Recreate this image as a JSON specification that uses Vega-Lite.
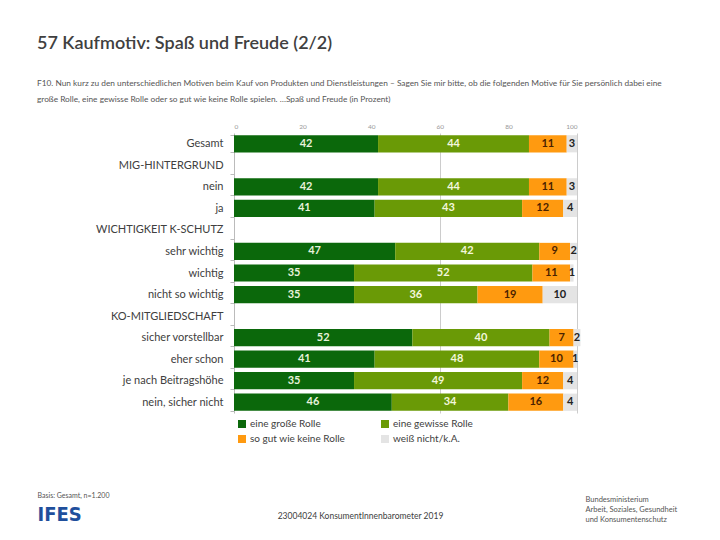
{
  "$schema": "https://vega.github.io/schema/vega-lite/v6.json",
  "autosize": {"type": "none"},
  "width": 343,
  "height": 280,
  "padding": {"left": 234, "top": 133, "right": 143, "bottom": 127},
  "background": "white",
  "config": {"view": {"stroke": null}, "font": "Lato"},
  "title": {
    "text": "57  Kaufmotiv: Spaß und Freude (2/2)",
    "subtitle": ["F10. Nun kurz zu den unterschiedlichen Motiven beim Kauf von Produkten und Dienstleistungen – Sagen Sie mir bitte, ob die folgenden Motive für Sie persönlich dabei eine", "große Rolle, eine gewisse Rolle oder so gut wie keine Rolle spielen. …Spaß und Freude (in Prozent)"],
    "anchor": "start",
    "frame": "group",
    "dx": -197,
    "offset": 20,
    "font": "Lato",
    "fontSize": 18,
    "fontWeight": 600,
    "color": "#404040",
    "subtitleFont": "Lato",
    "subtitleFontSize": 8.3,
    "subtitleColor": "#555555",
    "subtitleLineHeight": 16,
    "subtitlePadding": 26
  },
  "data": {"values": [
    {"row": "Gesamt", "cat": "eine große Rolle", "k": 1, "value": 42},
    {"row": "Gesamt", "cat": "eine gewisse Rolle", "k": 2, "value": 44},
    {"row": "Gesamt", "cat": "so gut wie keine Rolle", "k": 3, "value": 11},
    {"row": "Gesamt", "cat": "weiß nicht/k.A.", "k": 4, "value": 3},
    {"row": "nein", "cat": "eine große Rolle", "k": 1, "value": 42},
    {"row": "nein", "cat": "eine gewisse Rolle", "k": 2, "value": 44},
    {"row": "nein", "cat": "so gut wie keine Rolle", "k": 3, "value": 11},
    {"row": "nein", "cat": "weiß nicht/k.A.", "k": 4, "value": 3},
    {"row": "ja", "cat": "eine große Rolle", "k": 1, "value": 41},
    {"row": "ja", "cat": "eine gewisse Rolle", "k": 2, "value": 43},
    {"row": "ja", "cat": "so gut wie keine Rolle", "k": 3, "value": 12},
    {"row": "ja", "cat": "weiß nicht/k.A.", "k": 4, "value": 4},
    {"row": "sehr wichtig", "cat": "eine große Rolle", "k": 1, "value": 47},
    {"row": "sehr wichtig", "cat": "eine gewisse Rolle", "k": 2, "value": 42},
    {"row": "sehr wichtig", "cat": "so gut wie keine Rolle", "k": 3, "value": 9},
    {"row": "sehr wichtig", "cat": "weiß nicht/k.A.", "k": 4, "value": 2},
    {"row": "wichtig", "cat": "eine große Rolle", "k": 1, "value": 35},
    {"row": "wichtig", "cat": "eine gewisse Rolle", "k": 2, "value": 52},
    {"row": "wichtig", "cat": "so gut wie keine Rolle", "k": 3, "value": 11},
    {"row": "wichtig", "cat": "weiß nicht/k.A.", "k": 4, "value": 1},
    {"row": "nicht so wichtig", "cat": "eine große Rolle", "k": 1, "value": 35},
    {"row": "nicht so wichtig", "cat": "eine gewisse Rolle", "k": 2, "value": 36},
    {"row": "nicht so wichtig", "cat": "so gut wie keine Rolle", "k": 3, "value": 19},
    {"row": "nicht so wichtig", "cat": "weiß nicht/k.A.", "k": 4, "value": 10},
    {"row": "sicher vorstellbar", "cat": "eine große Rolle", "k": 1, "value": 52},
    {"row": "sicher vorstellbar", "cat": "eine gewisse Rolle", "k": 2, "value": 40},
    {"row": "sicher vorstellbar", "cat": "so gut wie keine Rolle", "k": 3, "value": 7},
    {"row": "sicher vorstellbar", "cat": "weiß nicht/k.A.", "k": 4, "value": 2},
    {"row": "eher schon", "cat": "eine große Rolle", "k": 1, "value": 41},
    {"row": "eher schon", "cat": "eine gewisse Rolle", "k": 2, "value": 48},
    {"row": "eher schon", "cat": "so gut wie keine Rolle", "k": 3, "value": 10},
    {"row": "eher schon", "cat": "weiß nicht/k.A.", "k": 4, "value": 1},
    {"row": "je nach Beitragshöhe", "cat": "eine große Rolle", "k": 1, "value": 35},
    {"row": "je nach Beitragshöhe", "cat": "eine gewisse Rolle", "k": 2, "value": 49},
    {"row": "je nach Beitragshöhe", "cat": "so gut wie keine Rolle", "k": 3, "value": 12},
    {"row": "je nach Beitragshöhe", "cat": "weiß nicht/k.A.", "k": 4, "value": 4},
    {"row": "nein, sicher nicht", "cat": "eine große Rolle", "k": 1, "value": 46},
    {"row": "nein, sicher nicht", "cat": "eine gewisse Rolle", "k": 2, "value": 34},
    {"row": "nein, sicher nicht", "cat": "so gut wie keine Rolle", "k": 3, "value": 16},
    {"row": "nein, sicher nicht", "cat": "weiß nicht/k.A.", "k": 4, "value": 4}
  ]},
  "layer": [
    {
      "mark": {"type": "bar"},
      "encoding": {
        "y": {
          "field": "row", "type": "nominal",
          "scale": {
            "domain": ["Gesamt", "MIG-HINTERGRUND", "nein", "ja", "WICHTIGKEIT K-SCHUTZ", "sehr wichtig", "wichtig", "nicht so wichtig", "KO-MITGLIEDSCHAFT", "sicher vorstellbar", "eher schon", "je nach Beitragshöhe", "nein, sicher nicht"],
            "paddingInner": 0.2, "paddingOuter": 0.1
          },
          "axis": {
            "orient": "left",
            "title": "Basis: Gesamt, n=1.200",
            "titleAngle": 0, "titleX": -197, "titleY": 364, "titleAlign": "left", "titleBaseline": "alphabetic",
            "titleFont": "Lato", "titleFontSize": 7, "titleFontWeight": "normal", "titleColor": "#555555",
            "tickBand": "extent", "tickSize": 4, "tickColor": "#bbbbbb", "domainColor": "#bbbbbb",
            "labelFont": "Lato", "labelFontSize": 11, "labelColor": "#404040", "labelPadding": 7, "labelLimit": 220
          }
        },
        "x": {
          "field": "value", "type": "quantitative", "stack": "zero",
          "scale": {"domain": [0, 100], "nice": false, "clamp": false},
          "axis": {
            "orient": "top", "values": [0, 20, 40, 60, 80, 100],
            "ticks": false, "domain": false, "labelFontSize": 6.5, "labelColor": "#999999", "labelPadding": 4,
            "grid": true,
            "gridColor": {"condition": {"test": "datum.value == 60 || datum.value == 100", "value": "#cccccc"}, "value": "transparent"},
            "title": "23004024 KonsumentInnenbarometer 2019",
            "titleX": 126, "titleY": 385, "titleAlign": "center", "titleBaseline": "alphabetic",
            "titleFont": "Lato", "titleFontSize": 8.5, "titleFontWeight": "normal", "titleColor": "#404040"
          }
        },
        "color": {
          "field": "cat", "type": "nominal",
          "scale": {
            "domain": ["eine große Rolle", "eine gewisse Rolle", "so gut wie keine Rolle", "weiß nicht/k.A."],
            "range": ["#0b680b", "#6a9a06", "#ff9a10", "#e4e4e4"]
          },
          "legend": {
            "orient": "none", "legendX": 3, "legendY": 286, "columns": 2, "direction": "horizontal",
            "title": null, "symbolType": "square", "symbolSize": 64, "symbolStrokeWidth": 0,
            "labelFont": "Lato", "labelFontSize": 10, "labelColor": "#404040", "rowPadding": 5, "columnPadding": 34, "labelOffset": 3
          }
        },
        "order": {"field": "k", "type": "quantitative"}
      }
    },
    {
      "mark": {"type": "text", "font": "Lato", "fontSize": 11, "fontWeight": "bold"},
      "encoding": {
        "y": {"field": "row", "type": "nominal",
          "axis": {"orient": "right", "labels": false, "ticks": false, "domain": false, "grid": false,
            "title": ["Bundesministerium", "Arbeit, Soziales, Gesundheit", "und Konsumentenschutz"],
            "titleAngle": 0, "titleX": 8, "titleY": 368, "titleAlign": "left", "titleBaseline": "alphabetic",
            "titleFont": "Lato", "titleFontSize": 7.5, "titleFontWeight": "normal", "titleColor": "#555555", "titleLineHeight": 10}},
        "x": {"field": "value", "type": "quantitative", "stack": "zero", "bandPosition": 0.5,
          "axis": {"orient": "bottom", "labels": false, "ticks": false, "domain": false, "grid": false,
            "title": "IFES", "titleX": -197, "titleY": 107, "titleAlign": "left", "titleBaseline": "alphabetic",
            "titleFont": "DejaVu Sans Condensed", "titleFontSize": 20, "titleFontWeight": "bold", "titleColor": "#1f4f9c"}},
        "text": {"field": "value", "type": "quantitative"},
        "order": {"field": "k", "type": "quantitative"},
        "color": {
          "field": "cat", "type": "nominal",
          "scale": {
            "domain": ["eine große Rolle", "eine gewisse Rolle", "so gut wie keine Rolle", "weiß nicht/k.A."],
            "range": ["#e8f2dc", "#f3f7dc", "#4a2200", "#222222"]
          },
          "legend": null
        }
      }
    }
  ],
  "resolve": {"scale": {"color": "independent"}, "axis": {"x": "independent", "y": "independent"}}
}
